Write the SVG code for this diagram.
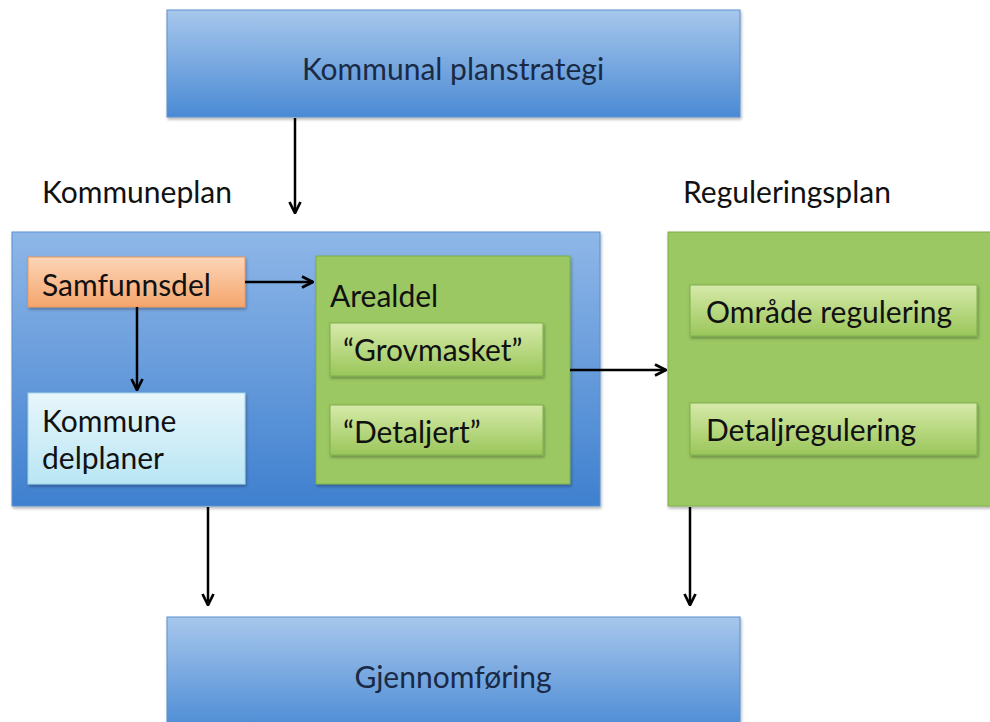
<svg xmlns="http://www.w3.org/2000/svg" width="990" height="722" viewBox="0 0 990 722">
<defs>
<linearGradient id="gBlue" x1="0" y1="0" x2="0" y2="1"><stop offset="0" stop-color="#a7c7ec"/><stop offset="1" stop-color="#4a8ad4"/></linearGradient>
<linearGradient id="gCont" x1="0" y1="0" x2="0" y2="1"><stop offset="0" stop-color="#8fb7e8"/><stop offset="1" stop-color="#3f80cf"/></linearGradient>
<linearGradient id="gGreenIn" x1="0" y1="0" x2="0" y2="1"><stop offset="0" stop-color="#d6eaa9"/><stop offset="1" stop-color="#9ac65a"/></linearGradient>
<linearGradient id="gOrange" x1="0" y1="0" x2="0" y2="1"><stop offset="0" stop-color="#fcd5b7"/><stop offset="1" stop-color="#f5a56c"/></linearGradient>
<linearGradient id="gCyan" x1="0" y1="0" x2="0" y2="1"><stop offset="0" stop-color="#e8f6fb"/><stop offset="1" stop-color="#b9e6f4"/></linearGradient>
<filter id="sh" x="-5%" y="-5%" width="110%" height="120%"><feDropShadow dx="1" dy="2" stdDeviation="1.5" flood-color="#000" flood-opacity="0.3"/></filter>
<marker id="ah" viewBox="0 0 10 10" refX="9" refY="5" markerWidth="5.5" markerHeight="5.5" orient="auto"><path d="M1,1 L9,5 L1,9" fill="none" stroke="#000" stroke-width="2"/></marker>
</defs>
<style>
text{font-family:"Lato","Open Sans","Liberation Sans",sans-serif;fill:#111;}
.t{font-size:30px;}
.c{text-anchor:middle;fill:#1a2a45;}
.con{stroke:#000;stroke-width:2.5;fill:none;marker-end:url(#ah);}
.bl{stroke:#5a8fcf;stroke-width:1;}
.gr{stroke:#7fae4a;stroke-width:1;}
</style>
<rect width="990" height="722" fill="#fff"/>
<g id="planstrategi"><rect x="167" y="10" width="573" height="107" fill="url(#gBlue)" class="bl" filter="url(#sh)"/><text x="453" y="80" class="t c">Kommunal planstrategi</text></g>
<g id="kommuneplan-label"><text x="42" y="203" class="t">Kommuneplan</text></g>
<g id="reguleringsplan-label"><text x="683" y="203" class="t">Reguleringsplan</text></g>
<g id="kommuneplan"><rect x="12" y="232" width="588" height="274" fill="url(#gCont)" class="bl" filter="url(#sh)"/></g>
<g id="samfunnsdel"><rect x="28" y="257" width="217" height="50" fill="url(#gOrange)" stroke="#e8965c" filter="url(#sh)"/><text x="42" y="296" class="t">Samfunnsdel</text></g>
<g id="kommunedelplaner"><rect x="28" y="393" width="217" height="91" fill="url(#gCyan)" stroke="#9fd3e8" filter="url(#sh)"/><text x="42" y="432" class="t">Kommune</text><text x="42" y="469" class="t">delplaner</text></g>
<g id="arealdel"><rect x="316" y="256" width="254" height="228" fill="#9bc863" class="gr" filter="url(#sh)"/><text x="330" y="307" class="t">Arealdel</text></g>
<g id="grovmasket"><rect x="330" y="323" width="213" height="53" fill="url(#gGreenIn)" class="gr" filter="url(#sh)"/><text x="343" y="361" class="t">“Grovmasket”</text></g>
<g id="detaljert"><rect x="330" y="405" width="213" height="50" fill="url(#gGreenIn)" class="gr" filter="url(#sh)"/><text x="343" y="443" class="t">“Detaljert”</text></g>
<g id="reguleringsplan"><rect x="668" y="232" width="330" height="274" fill="#9bc863" class="gr" filter="url(#sh)"/></g>
<g id="omrade"><rect x="690" y="285" width="287" height="51" fill="url(#gGreenIn)" class="gr" filter="url(#sh)"/><text x="706" y="323" class="t">Område regulering</text></g>
<g id="detaljregulering"><rect x="690" y="403" width="287" height="52" fill="url(#gGreenIn)" class="gr" filter="url(#sh)"/><text x="706" y="441" class="t">Detaljregulering</text></g>
<g id="gjennomforing"><rect x="167" y="617" width="573" height="115" fill="url(#gBlue)" class="bl" filter="url(#sh)"/><text x="453" y="688" class="t c">Gjennomføring</text></g>
<g id="connectors">
<line x1="295" y1="118" x2="295" y2="213" class="con"/>
<line x1="245" y1="282" x2="313" y2="282" class="con"/>
<line x1="137" y1="307" x2="137" y2="390" class="con"/>
<line x1="570" y1="370" x2="666" y2="370" class="con"/>
<line x1="208" y1="507" x2="208" y2="605" class="con"/>
<line x1="690" y1="507" x2="690" y2="605" class="con"/>
</g>
</svg>
